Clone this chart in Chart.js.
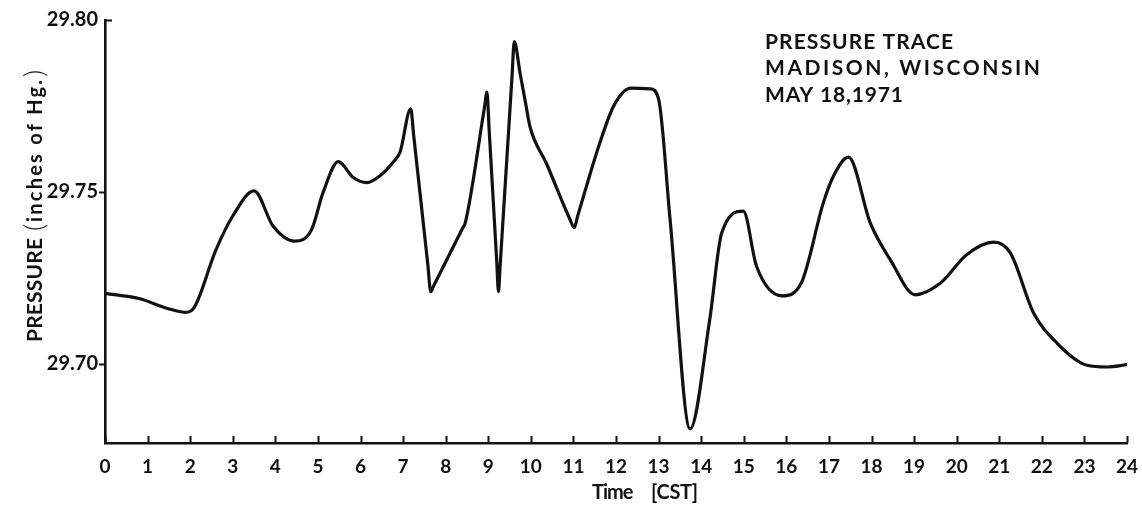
<!DOCTYPE html>
<html>
<head>
<meta charset="utf-8">
<script src="https://cdn.jsdelivr.net/npm/chart.js@4/dist/chart.umd.min.js"></script>
<style>
  html, body { margin: 0; padding: 0; background: #ffffff; }
  #wrap { width: 1142px; height: 506px; }
</style>
</head>
<body>
<div id="wrap"><canvas id="trace" width="1142" height="506"></canvas></div>
<script>
// Barograph trace, hours after midnight (CST) and station pressure (inches of Hg)
const hours = [
  0.00, 0.80, 1.45, 1.88, 2.10, 2.60, 3.00, 3.50, 3.95, 4.45,
  4.85, 5.12, 5.48, 5.83, 6.15, 6.46, 6.77, 6.93, 7.18, 7.25,
  7.58, 7.65, 7.72, 8.40, 8.46, 8.91, 8.97, 9.02, 9.20, 9.24,
  9.28, 9.56, 9.61, 9.75, 9.87, 9.98, 10.37, 10.92, 11.02, 11.10,
  11.31, 11.60, 11.95, 12.35, 12.80, 13.00, 13.27, 13.74, 14.20, 14.48,
  14.99, 15.30, 15.90, 16.35, 16.87, 17.11, 17.46, 17.97, 18.44, 19.03,
  19.62, 20.24, 20.87, 21.26, 21.81, 22.36, 23.06, 23.53, 24.00
];
const pressure = [
  29.7205, 29.7190, 29.7162, 29.7150, 29.7165, 29.7330, 29.7430, 29.7503, 29.7400, 29.7357,
  29.7390, 29.7498, 29.7588, 29.7542, 29.7527, 29.7547, 29.7587, 29.7616, 29.7742, 29.7663,
  29.7290, 29.7210, 29.7227, 29.7395, 29.7410, 29.7745, 29.7790, 29.7683, 29.7296, 29.7210,
  29.7288, 29.7839, 29.7937, 29.7843, 29.7763, 29.7690, 29.7582, 29.7420, 29.7396, 29.7430,
  29.7518, 29.7635, 29.7751, 29.7802, 29.7800, 29.7770, 29.7420, 29.6811, 29.7128, 29.7380,
  29.7444, 29.7284, 29.7198, 29.7235, 29.7469, 29.7547, 29.7601, 29.7410, 29.7303, 29.7201,
  29.7235, 29.7318, 29.7354, 29.7323, 29.7147, 29.7060, 29.6996, 29.6991, 29.6998
];

const hourTicks = [0, 1, 2, 3, 4, 5, 6, 7, 8, 9, 10, 11, 12, 13, 14, 15, 16, 17, 18, 19, 20, 21, 22, 23, 24];
const pressureTicks = [29.70, 29.75, 29.80];
const pressureTickLabels = ['29.70', '29.75', '29.80'];

const titleLines = ['PRESSURE TRACE', 'MADISON, WISCONSIN', 'MAY 18,1971'];
const yTitleMain = 'PRESSURE';
const yTitleUnit = 'inches of Hg.';
const xTitleMain = 'Time';
const xTitleUnit = '[CST]';

const INK = '#111111';
const FONT = 'Lato, "Open Sans", "DejaVu Sans", sans-serif';

// Draw text stretched to a given run length using canvas letter spacing
function spacedText(ctx, text, x, y, width) {
  ctx.letterSpacing = '0px';
  const w = ctx.measureText(text).width;
  let ls = (width - w) / Math.max(1, text.length - 1);
  ls = Math.max(-1, Math.min(5, ls));
  ctx.letterSpacing = ls.toFixed(2) + 'px';
  ctx.fillText(text, x, y);
  ctx.letterSpacing = '0px';
}

const decorations = {
  id: 'decorations',
  afterDraw(chart) {
    const ctx = chart.ctx;
    const xs = chart.scales.x;
    const ys = chart.scales.y;
    const area = chart.chartArea;
    ctx.save();
    ctx.strokeStyle = INK;
    ctx.fillStyle = INK;
    ctx.lineCap = 'butt';

    // hour ticks point up into the plot
    ctx.lineWidth = 2;
    xs.ticks.forEach(t => {
      const px = Math.round(xs.getPixelForValue(t.value)) + 0.5;
      ctx.beginPath();
      ctx.moveTo(px, area.bottom);
      ctx.lineTo(px, area.bottom - 7);
      ctx.stroke();
    });

    // pressure ticks: outward, except the top one which turns inward
    ys.ticks.forEach(t => {
      const py = Math.round(ys.getPixelForValue(t.value)) + 0.5;
      ctx.beginPath();
      if (t.value >= ys.max - 1e-9) {
        ctx.moveTo(area.left, py);
        ctx.lineTo(area.left + 7, py);
      } else {
        ctx.moveTo(area.left - 6, py);
        ctx.lineTo(area.left, py);
      }
      ctx.stroke();
    });

    // vertical axis title
    ctx.save();
    ctx.translate(42, 342);
    ctx.rotate(-Math.PI / 2);
    ctx.textAlign = 'left';
    ctx.textBaseline = 'alphabetic';
    ctx.font = 'bold 21px ' + FONT;
    spacedText(ctx, yTitleMain, 0, 0, 104);
    ctx.font = '300 28px ' + FONT;
    ctx.fillText('(', 111, 2);
    ctx.font = 'bold 20px ' + FONT;
    spacedText(ctx, yTitleUnit, 120, 0, 142);
    ctx.font = '300 28px ' + FONT;
    ctx.fillText(')', 265, 2);
    ctx.restore();

    // horizontal axis title
    ctx.textAlign = 'left';
    ctx.textBaseline = 'alphabetic';
    ctx.font = 'bold 20px ' + FONT;
    spacedText(ctx, xTitleMain, 592, 499, 41);
    spacedText(ctx, xTitleUnit, 651, 499, 47);

    // title block
    ctx.font = 'bold 21px ' + FONT;
    const titleWidths = [188, 275, 138];
    titleLines.forEach((line, i) => {
      spacedText(ctx, line, 765, 48.5 + i * 26.6, titleWidths[i]);
    });

    ctx.restore();
  }
};

new Chart(document.getElementById('trace'), {
  type: 'line',
  data: {
    datasets: [{
      data: hours.map((h, i) => ({ x: h, y: pressure[i] })),
      borderColor: INK,
      borderWidth: 3.2,
      pointRadius: 0,
      fill: false,
      cubicInterpolationMode: 'monotone',
      borderCapStyle: 'round',
      borderJoinStyle: 'round'
    }]
  },
  options: {
    responsive: false,
    animation: false,
    devicePixelRatio: 1,
    layout: { padding: { left: 0, right: 15, top: 20, bottom: 0 } },
    plugins: {
      legend: { display: false },
      tooltip: { enabled: false },
      title: { display: false }
    },
    scales: {
      x: {
        type: 'linear',
        min: 0,
        max: 24,
        afterBuildTicks: s => { s.ticks = hourTicks.map(v => ({ value: v })); },
        afterFit: s => { s.height = 63; s.paddingLeft = 0; s.paddingRight = 0; },
        grid: { display: false, drawTicks: false },
        border: { display: true, color: INK, width: 2.6 },
        ticks: {
          autoSkip: false,
          maxRotation: 0,
          padding: 12,
          color: INK,
          font: { family: FONT, weight: 'bold', size: 19 },
          callback: v => String(v)
        }
      },
      y: {
        type: 'linear',
        min: 29.677,
        max: 29.80,
        afterBuildTicks: s => { s.ticks = pressureTicks.map(v => ({ value: v })); },
        afterFit: s => { s.width = 105; s.paddingTop = 0; s.paddingBottom = 0; },
        grid: { display: false, drawTicks: false },
        border: { display: true, color: INK, width: 2.6 },
        ticks: {
          padding: 7,
          color: INK,
          font: { family: FONT, weight: 'bold', size: 20 },
          callback: v => {
            const k = pressureTicks.findIndex(p => Math.abs(p - v) < 1e-6);
            return k >= 0 ? pressureTickLabels[k] : '';
          }
        }
      }
    }
  },
  plugins: [decorations]
});
</script>
</body>
</html>
